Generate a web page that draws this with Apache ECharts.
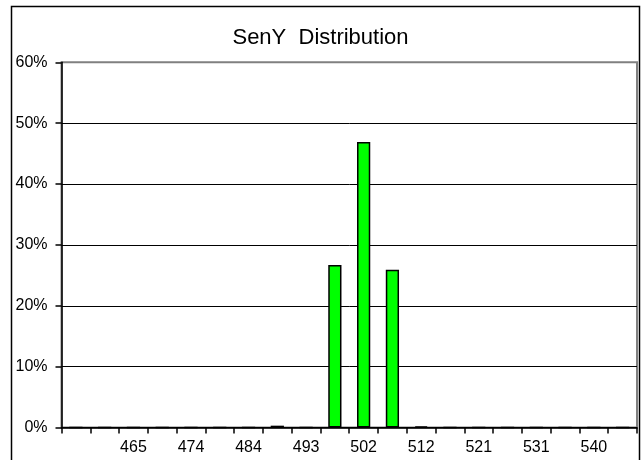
<!DOCTYPE html>
<html>
<head>
<meta charset="utf-8">
<script src="https://cdn.jsdelivr.net/npm/echarts@6/dist/echarts.min.js"></script>
<style>html,body{margin:0;padding:0;background:#fff}#c{width:641px;height:460px}</style>
</head>
<body>
<div id="c"></div>
<script>
var categories = ['455','460','465','470','474','479','484','488','493','498','502','507','512','516','521','526','531','535','540','545'];
var values = [0,0,0,0,0,0,0,0.3,0,26.7,46.9,25.9,0.2,0,0,0,0,0,0,0];
var yTicks = [0,10,20,30,40,50,60];
var titleText = 'SenY  Distribution';

var chart = echarts.init(document.getElementById('c'), null, {renderer:'canvas'});
var font = 'Arial, "Liberation Sans", sans-serif';
chart.setOption({
  animation:false,
  backgroundColor:'#fff',
  title:{text:titleText,left:'center',top:22,textStyle:{fontFamily:font,fontSize:22,fontWeight:'normal',color:'#000'}},
  graphic:[{type:'rect',shape:{x:11.5,y:6.5,width:628,height:470},style:{fill:'none',stroke:'#000',lineWidth:1.5},z:100}],
  grid:{left:61.5,right:4,top:62.3,bottom:32.5,show:true,borderColor:'#808080',borderWidth:2,backgroundColor:'#fff'},
  xAxis:{type:'category',data:categories,boundaryGap:true,
    axisLine:{onZero:false,lineStyle:{color:'#000',width:1.5}},
    axisTick:{show:true,interval:0,inside:false,length:6,lineStyle:{color:'#000',width:1.5}},
    axisLabel:{interval:function(i){return i%2===0 && i>0;},margin:12,fontFamily:font,fontSize:16,color:'#000'},
    splitLine:{show:false}},
  yAxis:{type:'value',min:yTicks[0],max:yTicks[yTicks.length-1],interval:10,
    axisLine:{show:true,lineStyle:{color:'#000',width:1.5}},
    axisTick:{show:true,length:6,lineStyle:{color:'#000',width:1.5}},
    axisLabel:{margin:14,fontFamily:font,fontSize:16,color:'#000',formatter:function(v){return v+'%';}},
    splitLine:{show:true,lineStyle:{color:['#000','#000','#000','#000','#000','#000','#808080'],width:1}}},
  series:[{type:'bar',data:values,barWidth:'46%',
    itemStyle:{color:'#00ff00',borderColor:'#000',borderWidth:1.5}}]
});
</script>
</body>
</html>
